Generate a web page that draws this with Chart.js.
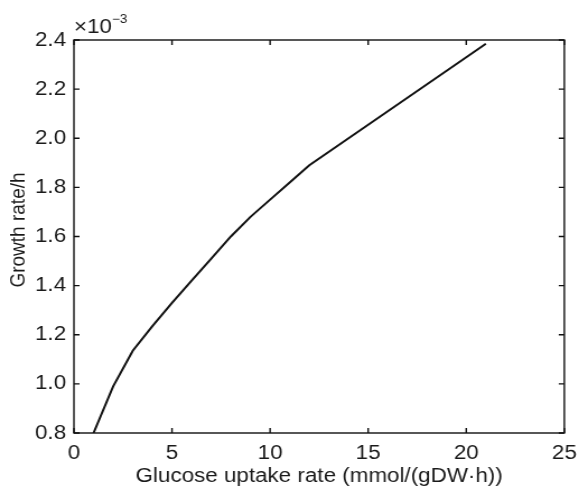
<!DOCTYPE html>
<html>
<head>
<meta charset="utf-8">
<script src="https://cdn.jsdelivr.net/npm/chart.js@4/dist/chart.umd.min.js"></script>
<style>
  html, body { margin: 0; padding: 0; background: #fff; overflow: hidden; }
  #wrap { width: 586px; height: 492px; }
  /* letras um pouco mais largas, como na figura original */
  #grafico { transform: scaleX(1.12); transform-origin: 0 0; }
</style>
</head>
<body>
<div id="wrap"><canvas id="grafico" width="523" height="492"></canvas></div>
<script>
// glucose uptake (mmol/(gDW·h)) vs growth rate (×10^-3 /h)
const uptake = [1, 2, 3, 4, 5, 6, 7, 8, 9, 10, 11, 12, 13, 14, 15, 16, 17, 18, 19, 20, 21];
const growth = [0.80, 0.99, 1.135, 1.235, 1.33, 1.42, 1.51, 1.60, 1.68, 1.75, 1.82, 1.89, 1.945, 2.0, 2.055, 2.11, 2.165, 2.22, 2.275, 2.33, 2.385];
const xTicks = [0, 5, 10, 15, 20, 25];
const yTicks = [0.8, 1.0, 1.2, 1.4, 1.6, 1.8, 2.0, 2.2, 2.4];

const fonte = 'Liberation Sans, Arial, sans-serif';
const corTexto = '#1a1a1a';

// caixa fechada + ticks para dentro (estilo MATLAB), título do eixo y e fator ×10^-3
const caixaPlugin = {
    id: 'caixa',
    afterDraw(chart) {
        const { ctx, chartArea: a, scales } = chart;
        ctx.save();
        ctx.strokeStyle = '#111';
        ctx.lineWidth = 1.4;
        ctx.strokeRect(a.left, a.top, a.right - a.left, a.bottom - a.top);

        const len = 5;
        ctx.beginPath();
        xTicks.forEach(v => {
            const px = scales.x.getPixelForValue(v);
            ctx.moveTo(px, a.bottom); ctx.lineTo(px, a.bottom - len);
            ctx.moveTo(px, a.top); ctx.lineTo(px, a.top + len);
        });
        yTicks.forEach(v => {
            const py = scales.y.getPixelForValue(v);
            ctx.moveTo(a.left, py); ctx.lineTo(a.left + len, py);
            ctx.moveTo(a.right, py); ctx.lineTo(a.right - len, py);
        });
        ctx.stroke();

        ctx.fillStyle = corTexto;

        // título do eixo y
        ctx.save();
        ctx.translate(17, 230);
        ctx.rotate(-Math.PI / 2);
        ctx.textAlign = 'center';
        ctx.textBaseline = 'middle';
        ctx.font = '19px ' + fonte;
        ctx.fillText('Growth rate/h', 0, 0);
        ctx.restore();

        // fator de escala do eixo y
        ctx.textBaseline = 'alphabetic';
        ctx.textAlign = 'left';
        ctx.font = '20px ' + fonte;
        ctx.fillText('\u00d710', a.left, a.top - 7);
        const w = ctx.measureText('\u00d710').width;
        ctx.font = '12px ' + fonte;
        ctx.fillText('\u22123', a.left + w, a.top - 17);
        ctx.restore();
    }
};

const ctx = document.getElementById('grafico').getContext('2d');
new Chart(ctx, {
    type: 'scatter',
    data: {
        datasets: [{
            data: uptake.map((x, i) => ({ x: x, y: growth[i] })),
            showLine: true,
            borderColor: '#111',
            borderWidth: 2,
            pointRadius: 0,
            tension: 0
        }]
    },
    options: {
        responsive: false,
        animation: false,
        events: [],
        devicePixelRatio: 1,
        layout: { padding: { left: 0, top: 40, right: 11, bottom: 0 } },
        plugins: {
            legend: { display: false },
            tooltip: { enabled: false }
        },
        scales: {
            x: {
                type: 'linear',
                min: 0,
                max: 25,
                afterFit: s => { s.height = 59; },
                afterBuildTicks: s => { s.ticks = xTicks.map(v => ({ value: v })); },
                grid: { display: false, drawTicks: false },
                border: { display: false },
                ticks: {
                    color: corTexto,
                    padding: 8,
                    maxRotation: 0,
                    font: { family: fonte, size: 20 },
                    callback: v => String(v)
                },
                title: {
                    display: true,
                    text: 'Glucose uptake rate (mmol/(gDW\u00b7h))',
                    color: corTexto,
                    font: { family: fonte, size: 20 },
                    padding: { top: 0, bottom: 4 }
                }
            },
            y: {
                type: 'linear',
                min: 0.8,
                max: 2.4,
                afterFit: s => { s.width = 66; },
                afterBuildTicks: s => { s.ticks = yTicks.map(v => ({ value: v })); },
                grid: { display: false, drawTicks: false },
                border: { display: false },
                ticks: {
                    color: corTexto,
                    padding: 7,
                    font: { family: fonte, size: 20 },
                    callback: v => Number(v).toFixed(1)
                },
                title: { display: false }
            }
        }
    },
    plugins: [caixaPlugin]
});
</script>
</body>
</html>
